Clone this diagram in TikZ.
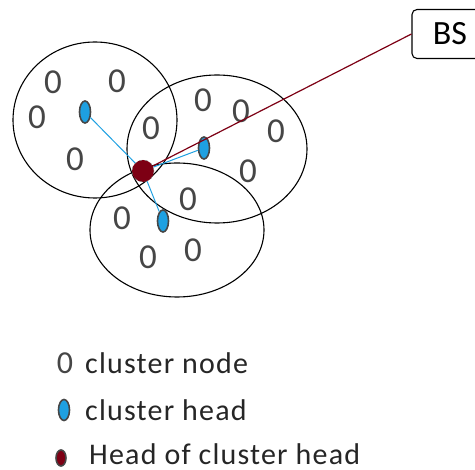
\documentclass[tikz,border=0pt]{standalone}
\usepackage{fontspec}
\setmainfont{Carlito}
\newfontfamily\legendfont[LetterSpace=4]{Carlito}
\usetikzlibrary{shapes.geometric}
\definecolor{headblue}{RGB}{30,160,225}
\definecolor{chred}{RGB}{125,0,20}
\definecolor{nodegray}{RGB}{70,70,70}
\begin{document}
\begin{tikzpicture}[x=1pt, y=-1pt]
\tikzstyle{cluster} = [ellipse, draw=black, line width=1.1pt]
\tikzstyle{member} = [text=nodegray, font=\fontsize{35}{35}\selectfont, inner sep=0pt]
\tikzstyle{head} = [ellipse, draw=nodegray, line width=1.6pt, fill=headblue, minimum width=11pt, minimum height=22pt, inner sep=0pt]
\tikzstyle{chead} = [circle, draw=gray, dashed, fill=chred, minimum size=22pt, inner sep=0pt]
\tikzstyle{legend} = [anchor=west, font=\legendfont\fontsize{30}{30}\selectfont, text=black!85, inner sep=0pt]
\useasboundingbox (0,0) rectangle (475,470);

% clusters
\node (C1) [cluster, minimum width=164pt, minimum height=156pt] at (95,120) {};
\node (C2) [cluster, minimum width=180pt, minimum height=148pt] at (217,149) {};
\node (C3) [cluster, minimum width=174pt, minimum height=134pt] at (177,230) {};

% cluster members
\node (a1) [member] at (53,82) {0};
\node (a2) [member] at (117,81) {0};
\node (a3) [member] at (37,117) {0};
\node (a4) [member] at (151,128) {0};
\node (a5) [member] at (75,159) {0};
\node (b1) [member] at (203,100) {0};
\node (b2) [member] at (241,111) {0};
\node (b3) [member] at (276,131) {0};
\node (b4) [member] at (248,171) {0};
\node (c1) [member] at (188,199) {0};
\node (c2) [member] at (122,218) {0};
\node (c3) [member] at (148,257) {0};
\node (c4) [member] at (193,250) {0};

% heads
\node (H1) [head] at (85,112) {};
\node (H2) [head] at (204,148) {};
\node (H3) [head] at (163,221) {};
\node (HH) [chead] at (143,171) {};

\node (BS) [draw=black, line width=1.1pt, rounded corners=5pt, minimum width=76pt, minimum height=49pt, font=\fontsize{34}{34}\selectfont] at (450,34) {BS};

\path [headblue, line width=1pt] (HH) edge (H1)
                                (HH) edge (H2)
                                (HH) edge (H3);
\path [chred, line width=1.2pt] (HH) edge (BS.west);

% legend
\node (k1) [member, font=\fontsize{32}{32}\selectfont] at (65,363) {0};
\node (t1) [legend] at (85,363) {cluster node};
\node (k2) [head, minimum height=21pt] at (64,410) {};
\node (t2) [legend] at (85,410) {cluster head};
\node (k3) [head, fill=chred, minimum width=10pt, minimum height=16pt] at (61,458) {};
\node (t3) [legend] at (89,454) {Head of cluster head};
\end{tikzpicture}
\end{document}
